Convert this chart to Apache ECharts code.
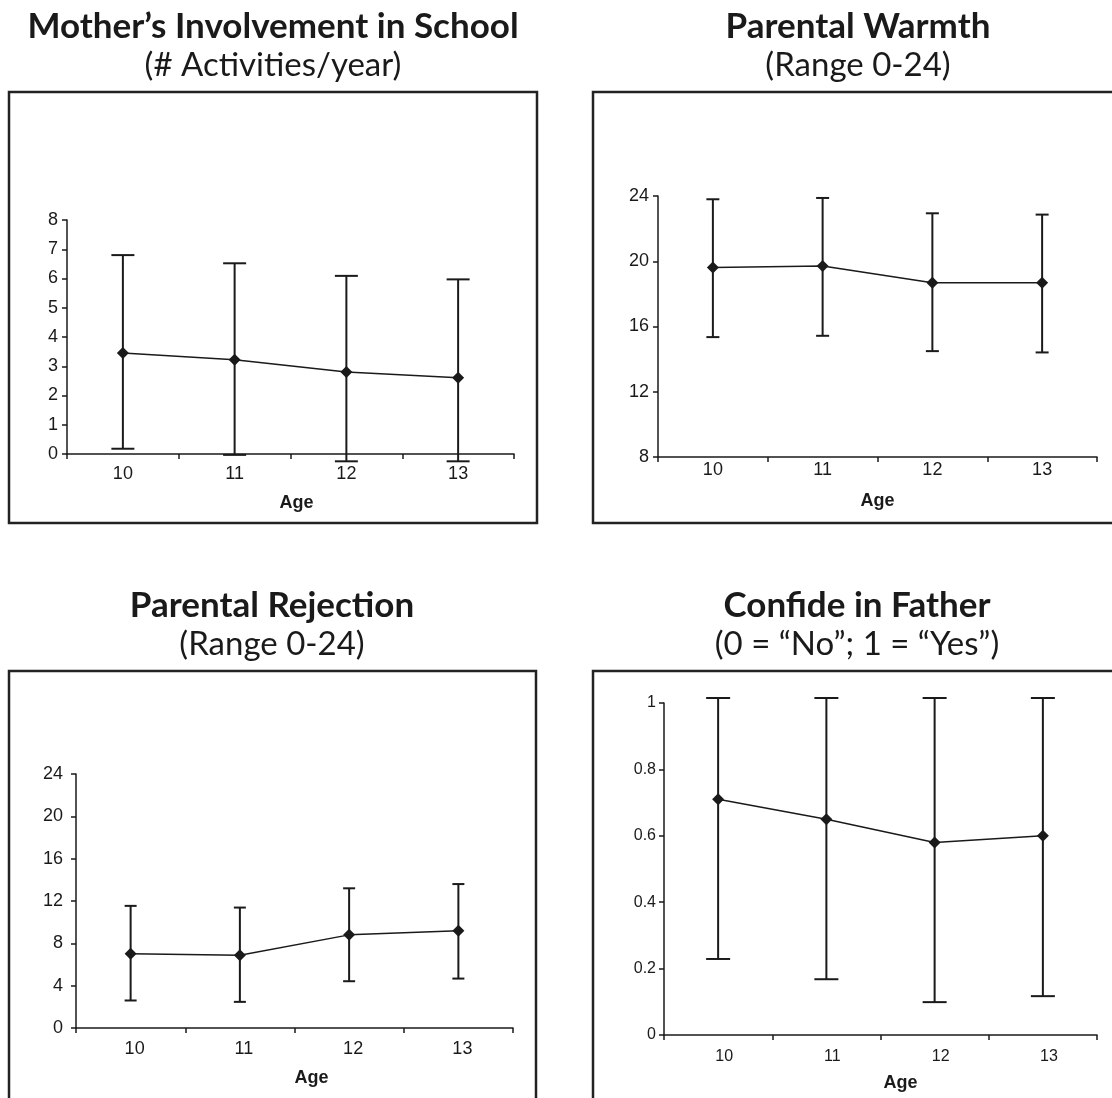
<!DOCTYPE html>
<html>
<head>
<meta charset="utf-8">
<script src="https://cdn.jsdelivr.net/npm/echarts@6/dist/echarts.min.js"></script>
<style>
  html, body { margin: 0; padding: 0; background: #fff; }
  #chart { width: 1112px; height: 1098px; }
</style>
</head>
<body>
<div id="chart"></div>
<script>
// Age groups on the x axis
const ages = ['10', '11', '12', '13'];

// Mother's involvement in school (# activities/year): mean and error-bar ends
const involvementMean = [3.45, 3.22, 2.80, 2.61];
const involvementHigh = [6.80, 6.52, 6.09, 5.97];
const involvementLow = [0.18, -0.03, -0.25, -0.25];

// Parental warmth (range 0-24)
const warmthMean = [19.61, 19.71, 18.68, 18.68];
const warmthHigh = [23.80, 23.88, 22.94, 22.86];
const warmthLow = [15.35, 15.43, 14.49, 14.41];

// Parental rejection (range 0-24)
const rejectionMean = [7.02, 6.87, 8.80, 9.18];
const rejectionHigh = [11.54, 11.38, 13.20, 13.60];
const rejectionLow = [2.60, 2.47, 4.42, 4.67];

// Confide in father (0 = No, 1 = Yes)
const confideMean = [0.71, 0.65, 0.58, 0.60];
const confideHigh = [1.015, 1.015, 1.015, 1.015];
const confideLow = [0.229, 0.168, 0.099, 0.117];

// Y-axis scales for each panel
const involvementTicks = { min: 0, max: 8, interval: 1 };
const warmthTicks = { min: 8, max: 24, interval: 4 };
const rejectionTicks = { min: 0, max: 24, interval: 4 };
const confideTicks = { min: 0, max: 1, interval: 0.2 };

const INK = '#1a1a1a';
const TITLE_FONT = 'Lato, "Open Sans", sans-serif';
const AXIS_FONT = '"Liberation Sans", Arial, sans-serif';

const panels = [
  {
    title: 'Mother\u2019s Involvement in School', sub: '(# Activities/year)',
    mean: involvementMean, high: involvementHigh, low: involvementLow, ticks: involvementTicks,
    grid: { left: 67, top: 220, width: 447, height: 234 },
    frame: { x: 9, y: 92, width: 528, height: 431 }, titleX: 273, titleY: 27,
    cap: 11.5, labelSize: 18, labelMargin: 9, xLabelMargin: 11, xShift: 0, nameGap: 40, nameShift: 12
  },
  {
    title: 'Parental Warmth', sub: '(Range 0-24)',
    mean: warmthMean, high: warmthHigh, low: warmthLow, ticks: warmthTicks,
    grid: { left: 658, top: 196, width: 439, height: 261 },
    frame: { x: 593, y: 92, width: 540, height: 431 }, titleX: 858, titleY: 27,
    cap: 6.5, labelSize: 18, labelMargin: 9, xLabelMargin: 4, xShift: 0, nameGap: 35, nameShift: 0
  },
  {
    title: 'Parental Rejection', sub: '(Range 0-24)',
    mean: rejectionMean, high: rejectionHigh, low: rejectionLow, ticks: rejectionTicks,
    grid: { left: 76, top: 774, width: 437, height: 254 },
    frame: { x: 9, y: 671, width: 527, height: 460 }, titleX: 272, titleY: 606,
    cap: 6, labelSize: 18, labelMargin: 13, xLabelMargin: 12, xShift: 8, nameGap: 41, nameShift: 34
  },
  {
    title: 'Confide in Father', sub: '(0 = \u201CNo\u201D; 1 = \u201CYes\u201D)',
    mean: confideMean, high: confideHigh, low: confideLow, ticks: confideTicks,
    grid: { left: 664, top: 703, width: 433, height: 332 },
    frame: { x: 593, y: 671, width: 540, height: 460 }, titleX: 857, titleY: 606,
    cap: 12, labelSize: 16, labelMargin: 8, xLabelMargin: 14, xShift: 12, nameGap: 39, nameShift: 40
  }
];

// Vertical error bar with horizontal caps, placed through the axis scales
function errorBar(capHalf) {
  return function (params, api) {
    const idx = api.value(0);
    const lo = api.coord([idx, api.value(1)]);
    const hi = api.coord([idx, api.value(2)]);
    const style = { stroke: INK, lineWidth: 2 };
    return {
      type: 'group',
      children: [
        { type: 'line', shape: { x1: lo[0], y1: lo[1], x2: hi[0], y2: hi[1] }, style },
        { type: 'line', shape: { x1: hi[0] - capHalf, y1: hi[1], x2: hi[0] + capHalf, y2: hi[1] }, style },
        { type: 'line', shape: { x1: lo[0] - capHalf, y1: lo[1], x2: lo[0] + capHalf, y2: lo[1] }, style }
      ]
    };
  };
}

const grid = [], xAxis = [], yAxis = [], series = [], graphic = [];

panels.forEach((p, i) => {
  grid.push(Object.assign({ containLabel: false }, p.grid));

  xAxis.push({
    type: 'category', gridIndex: i, data: ages, boundaryGap: true,
    name: 'Age', nameLocation: 'middle', nameGap: p.nameGap,
    nameTextStyle: { fontFamily: AXIS_FONT, fontWeight: 'bold', fontSize: 18, color: INK, padding: [0, 0, 0, p.nameShift] },
    axisLine: { lineStyle: { color: INK, width: 1.5 } },
    axisTick: { show: true, length: 5, lineStyle: { color: INK, width: 1.5 } },
    axisLabel: { fontFamily: AXIS_FONT, fontSize: p.labelSize, color: INK, margin: p.xLabelMargin, padding: [0, 0, 0, p.xShift] },
    splitLine: { show: false }
  });

  yAxis.push({
    type: 'value', gridIndex: i,
    min: p.ticks.min, max: p.ticks.max, interval: p.ticks.interval,
    axisLine: { show: true, lineStyle: { color: INK, width: 1.5 } },
    axisTick: { show: true, length: 5, lineStyle: { color: INK, width: 1.5 } },
    axisLabel: { fontFamily: AXIS_FONT, fontSize: p.labelSize, color: INK, margin: p.labelMargin },
    splitLine: { show: false }
  });

  series.push({
    type: 'custom', xAxisIndex: i, yAxisIndex: i, clip: false, z: 2,
    renderItem: errorBar(p.cap),
    encode: { x: 0, y: [1, 2] },
    data: ages.map((a, k) => [k, p.low[k], p.high[k]])
  });

  series.push({
    type: 'line', xAxisIndex: i, yAxisIndex: i, z: 3,
    data: p.mean,
    symbol: 'diamond', symbolSize: 12,
    itemStyle: { color: INK },
    lineStyle: { color: INK, width: 1.5 },
    animation: false
  });

  // panel border
  graphic.push({
    type: 'rect', shape: p.frame,
    style: { fill: 'none', stroke: '#222', lineWidth: 2.5 }, z: 0
  });
  // panel heading and subheading
  graphic.push({
    type: 'text', x: p.titleX, y: p.titleY,
    style: { text: p.title, font: 'bold 35px ' + TITLE_FONT, fill: INK, align: 'center', verticalAlign: 'middle' }
  });
  graphic.push({
    type: 'text', x: p.titleX, y: p.titleY + 38,
    style: { text: p.sub, font: '33px ' + TITLE_FONT, fill: INK, align: 'center', verticalAlign: 'middle' }
  });
});

const chart = echarts.init(document.getElementById('chart'), null, { renderer: 'canvas' });
chart.setOption({
  animation: false,
  backgroundColor: '#ffffff',
  grid, xAxis, yAxis, series, graphic
});
</script>
</body>
</html>
